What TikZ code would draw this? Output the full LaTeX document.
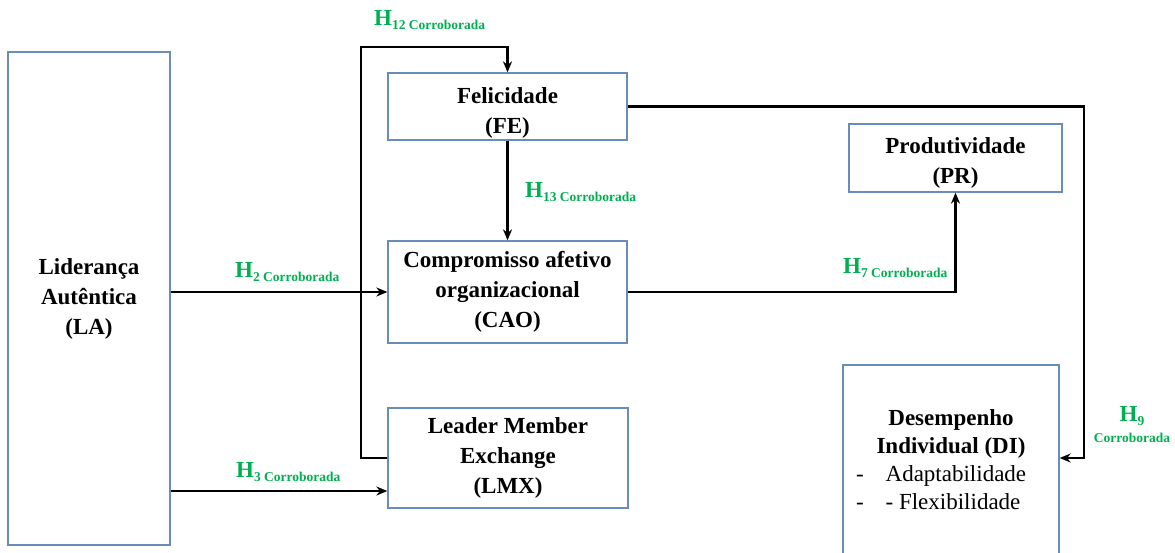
\documentclass[tikz,border=0pt]{standalone}
\usepackage{fontspec}
\setmainfont{Liberation Serif}
\usetikzlibrary{arrows.meta}
\definecolor{boxblue}{RGB}{105,140,185}
\definecolor{hgreen}{RGB}{0,176,80}
\tikzset{
  box/.style={draw=boxblue, line width=1.3pt, align=center, inner sep=0pt,
    font=\fontsize{23}{30}\selectfont\bfseries},
  link/.style={line width=2.3pt, -{Stealth[length=11pt,width=9pt]}},
  hyp/.style={anchor=base west, text=hgreen, inner sep=0pt,
    font=\fontsize{23}{23}\selectfont\bfseries},
}
\newcommand{\subtxt}[1]{\raisebox{-4pt}{\fontsize{13.5}{14}\selectfont #1}}
\begin{document}
\begin{tikzpicture}[x=1pt,y=-1pt]
  \useasboundingbox (0,0) rectangle (1175,552);

  % constructs
  \node[box, minimum width=162, minimum height=493] (LA) at (89,298.5)
    {Liderança\\Autêntica\\(LA)};
  \node[box, minimum width=239, minimum height=67] (FE) at (507.5,106.5)
    {\rule{0pt}{28pt}Felicidade\\(FE)};
  \node[box, minimum width=239, minimum height=102] (CAO) at (507.5,292)
    {Compromisso afetivo\\organizacional\\(CAO)};
  \node[box, minimum width=240, minimum height=100] (LMX) at (508,458)
    {Leader Member\\Exchange\\(LMX)};
  \node[box, minimum width=213, minimum height=68] (PR) at (955.5,158)
    {\rule{0pt}{25pt}Produtividade\\(PR)};
  \node[box, minimum width=216, minimum height=189,
        font=\fontsize{23}{28}\selectfont\bfseries] (DI) at (951,459.5)
    {Desempenho\\Individual (DI)\\
     \makebox[190pt][l]{\mdseries -\hspace{22pt}Adaptabilidade}\\
     \makebox[190pt][l]{\mdseries -\hspace{22pt}- Flexibilidade}};

  % hypothesised paths
  \draw[link] (LA.east |- CAO.west) -- (CAO.west);
  \draw[link] (LA.east |- 0,491) -- (LMX.west |- 0,491);
  \draw[link] (LMX.west) -| (361,47) -| (FE.north);
  \draw[link] (FE.south) -- (CAO.north);
  \draw[link] (CAO.east) -| (PR.south);
  \draw[link] (FE.east) -| (1084,458) -- (DI.east |- 0,458);

  % hypothesis labels
  \node[hyp] (h12) at (374,25) {H\subtxt{12 Corroborada}};
  \node[hyp] (h2) at (235,277) {H\subtxt{2 Corroborada}};
  \node[hyp] (h13) at (525,197) {H\subtxt{13 Corroborada}};
  \node[hyp] (h7) at (843,273) {H\subtxt{7 Corroborada}};
  \node[hyp] (h3) at (236,477) {H\subtxt{3 Corroborada}};
  \node[hyp, anchor=base] (h9) at (1132,421) {H\subtxt{9}};
  \node[hyp, anchor=base, font=\fontsize{13.5}{14}\selectfont\bfseries]
    (h9b) at (1132,442) {Corroborada};
\end{tikzpicture}
\end{document}
